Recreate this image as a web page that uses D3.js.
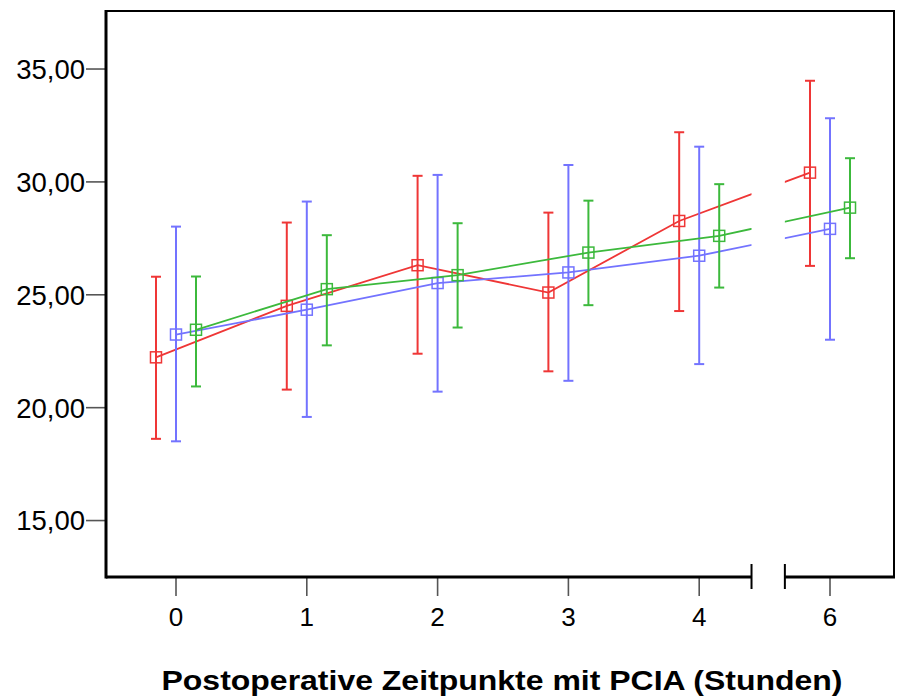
<!DOCTYPE html>
<html>
<head>
<meta charset="utf-8">
<script src="https://cdn.jsdelivr.net/npm/d3@7"></script>
<style>
    body { margin: 0; background: #fff; }
    #chart { width: 897px; height: 697px; }
    text { font-family: Arial, "Liberation Sans", sans-serif; fill: #000; }
</style>
</head>
<body>
<div id="chart"></div>
<script>
// time points (hours after surgery), 5 h is not shown -> axis break
const timepoints = ["0", "1", "2", "3", "4", "6"];
const yTicks = [15, 20, 25, 30, 35];

// group 1 (red)
const redMean = [22.23, 24.51, 26.31, 25.10, 28.27, 30.41];
const redLow  = [18.62, 20.80, 22.39, 21.61, 24.28, 26.28];
const redHigh = [25.80, 28.20, 30.27, 28.64, 32.20, 34.48];

// group 2 (blue)
const blueMean = [23.24, 24.34, 25.52, 25.99, 26.73, 27.92];
const blueLow  = [18.51, 19.59, 20.71, 21.19, 21.93, 23.01];
const blueHigh = [28.02, 29.13, 30.31, 30.75, 31.56, 32.82];

// group 3 (green)
const greenMean = [23.45, 25.25, 25.87, 26.87, 27.61, 28.86];
const greenLow  = [20.94, 22.76, 23.55, 24.54, 25.32, 26.62];
const greenHigh = [25.81, 27.64, 28.17, 29.17, 29.90, 31.05];

const xTitle = "Postoperative Zeitpunkte mit PCIA (Stunden)";


class ErrorBarVis {

    constructor(parentElement) {
        this.parentElement = parentElement;
        this.series = [
            {name: "rot",  color: "#ef3636", offset: -0.153, mean: redMean, low: redLow, high: redHigh},
            {name: "blau", color: "#7373ff", offset: 0,      mean: blueMean, low: blueLow, high: blueHigh},
            {name: "gruen", color: "#3cb93c", offset: 0.153, mean: greenMean, low: greenLow, high: greenHigh}
        ];
        this.initVis();
    }

    initVis() {
        let vis = this;

        vis.margin = {top: 11, right: 2, bottom: 120, left: 106};
        vis.width = 897 - vis.margin.left - vis.margin.right;
        vis.height = 697 - vis.margin.top - vis.margin.bottom;

        vis.svg = d3.select("#" + vis.parentElement).append("svg")
            .attr("width", 897)
            .attr("height", 697)
            .append("g")
            .attr("transform", `translate(${vis.margin.left}, ${vis.margin.top})`);

        // scales
        vis.x = d3.scalePoint()
            .domain(timepoints)
            .range([70, 724]);
        vis.step = vis.x.step();

        vis.y = d3.scaleLinear()
            .domain([12.5, 37.57])
            .range([vis.height, 0]);

        vis.fmt = d3.formatLocale({decimal: ",", thousands: ".", grouping: [3], currency: ["", " €"]}).format(".2f");

        // break position between "4" and "6"
        vis.breakA = vis.x("4") + 0.4 * vis.step;
        vis.breakB = vis.x("4") + 0.655 * vis.step;

        // clip lines out of the break gap
        let clip = vis.svg.append("defs").append("clipPath").attr("id", "gapClip");
        clip.append("rect").attr("x", 0).attr("y", 0).attr("width", vis.breakA).attr("height", vis.height);
        clip.append("rect").attr("x", vis.breakB).attr("y", 0).attr("width", vis.width - vis.breakB).attr("height", vis.height);

        vis.updateVis();
    }

    updateVis() {
        let vis = this;

        // y ticks + labels
        let yt = vis.svg.append("g").attr("class", "y-axis axis");
        yt.selectAll("line").data(yTicks).enter().append("line")
            .attr("x1", -20).attr("x2", 0)
            .attr("y1", d => vis.y(d)).attr("y2", d => vis.y(d))
            .attr("stroke", "#555").attr("stroke-width", 1.6);
        yt.selectAll("text").data(yTicks).enter().append("text")
            .attr("x", -21).attr("y", d => vis.y(d))
            .attr("dy", "0.36em")
            .attr("text-anchor", "end")
            .style("font-size", "27.5px")
            .text(d => vis.fmt(d));

        // x ticks + labels
        let xt = vis.svg.append("g").attr("class", "x-axis axis");
        xt.selectAll("line").data(timepoints).enter().append("line")
            .attr("x1", d => vis.x(d)).attr("x2", d => vis.x(d))
            .attr("y1", vis.height).attr("y2", vis.height + 19)
            .attr("stroke", "#555").attr("stroke-width", 1.6);
        xt.selectAll("text").data(timepoints).enter().append("text")
            .attr("x", d => vis.x(d)).attr("y", vis.height + 49)
            .attr("text-anchor", "middle")
            .style("font-size", "26px")
            .text(d => d);

        // frame
        let frame = vis.svg.append("g").attr("class", "frame")
            .attr("stroke", "#000").attr("fill", "none");
        frame.append("line").attr("x1", 0).attr("x2", vis.width).attr("y1", 0).attr("y2", 0).attr("stroke-width", 2);
        frame.append("line").attr("x1", vis.width - 1).attr("x2", vis.width - 1).attr("y1", 0).attr("y2", vis.height).attr("stroke-width", 2);
        frame.append("line").attr("x1", 0).attr("x2", 0).attr("y1", -1).attr("y2", vis.height + 1.5).attr("stroke-width", 3);
        frame.append("line").attr("x1", 0).attr("x2", vis.breakA).attr("y1", vis.height).attr("y2", vis.height).attr("stroke-width", 3);
        frame.append("line").attr("x1", vis.breakB).attr("x2", vis.width).attr("y1", vis.height).attr("y2", vis.height).attr("stroke-width", 3);
        [vis.breakA, vis.breakB].forEach(bx => {
            frame.append("line").attr("x1", bx).attr("x2", bx)
                .attr("y1", vis.height - 13).attr("y2", vis.height + 12).attr("stroke-width", 2);
        });

        // series
        vis.series.forEach(s => {
            let pts = timepoints.map((t, i) => ({
                x: vis.x(t) + s.offset * vis.step,
                mean: s.mean[i], low: s.low[i], high: s.high[i]
            }));
            let g = vis.svg.append("g").attr("class", "series " + s.name);

            g.append("path")
                .datum(pts)
                .attr("clip-path", "url(#gapClip)")
                .attr("fill", "none")
                .attr("stroke", s.color)
                .attr("stroke-width", 1.8)
                .attr("d", d3.line().x(d => d.x).y(d => vis.y(d.mean)));

            g.selectAll(".bar").data(pts).enter().append("line")
                .attr("class", "bar")
                .attr("x1", d => d.x).attr("x2", d => d.x)
                .attr("y1", d => vis.y(d.low)).attr("y2", d => vis.y(d.high))
                .attr("stroke", s.color).attr("stroke-width", 2);

            g.selectAll(".cap-hi").data(pts).enter().append("line")
                .attr("class", "cap-hi")
                .attr("x1", d => d.x - 5).attr("x2", d => d.x + 5)
                .attr("y1", d => vis.y(d.high)).attr("y2", d => vis.y(d.high))
                .attr("stroke", s.color).attr("stroke-width", 2);

            g.selectAll(".cap-lo").data(pts).enter().append("line")
                .attr("class", "cap-lo")
                .attr("x1", d => d.x - 5).attr("x2", d => d.x + 5)
                .attr("y1", d => vis.y(d.low)).attr("y2", d => vis.y(d.low))
                .attr("stroke", s.color).attr("stroke-width", 2);

            g.selectAll(".marker").data(pts).enter().append("rect")
                .attr("class", "marker")
                .attr("x", d => d.x - 5.5).attr("y", d => vis.y(d.mean) - 5.5)
                .attr("width", 11).attr("height", 11)
                .attr("fill", "none")
                .attr("stroke", s.color).attr("stroke-width", 1.5);
        });

        // axis title
        vis.svg.append("text")
            .attr("class", "x-title")
            .attr("x", 396).attr("y", vis.height + 113)
            .attr("text-anchor", "middle")
            .attr("textLength", 681)
            .attr("lengthAdjust", "spacingAndGlyphs")
            .style("font-size", "28px")
            .style("font-weight", "bold")
            .text(xTitle);
    }
}

new ErrorBarVis("chart");
</script>
</body>
</html>
